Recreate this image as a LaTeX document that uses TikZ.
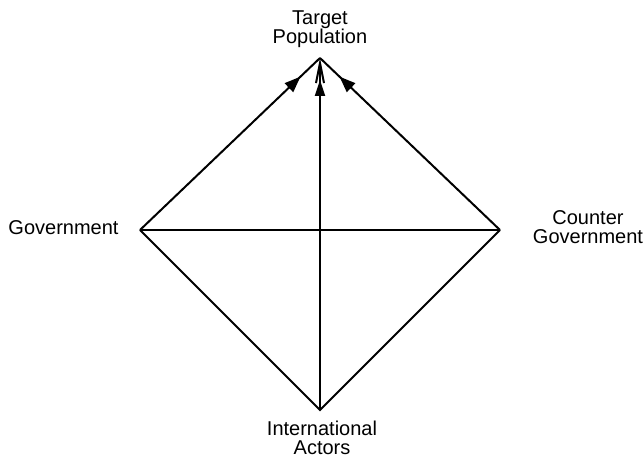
\documentclass[tikz,border=0pt]{standalone}
\usepackage{fontspec}
\setmainfont{Liberation Sans}
\usetikzlibrary{arrows.meta,decorations.markings}
\begin{document}
\begin{tikzpicture}[x=0.5pt,y=-0.5pt,
  lbl/.style={align=center,inner sep=0pt,font=\fontsize{10}{9.5}\selectfont},
  edge/.style={line width=1pt},
  fillhead/.style 2 args={postaction={decorate},decoration={markings,
     mark=at position #1 with {\arrow{Triangle[length=8pt,width=#2]}}}}
]
\useasboundingbox (0,0) rectangle (644,458);
\coordinate (T) at (320,58);
\coordinate (L) at (140,230);
\coordinate (R) at (500,230);
\coordinate (B) at (320,410);
\node[lbl] (tp) at (320,29) {Target\\Population};
\node[lbl] (gov) at (63.5,228) {Government};
\node[lbl] (cg) at (588,227) {Counter\\Government};
\node[lbl] (ia) at (322,438) {International\\Actors};
\draw[edge,line join=miter] (L) -- (B) -- (R);
\draw[edge] (L) -- (R);
\draw[edge,fillhead={-13.5pt}{6pt}] (L) -- (T);
\draw[edge,fillhead={-13.5pt}{6pt}] (R) -- (T);
\draw[edge,fillhead={-11pt}{5pt},-{Straight Barb[length=10pt,width=4pt]}] (B) -- (T);
\end{tikzpicture}
\end{document}
